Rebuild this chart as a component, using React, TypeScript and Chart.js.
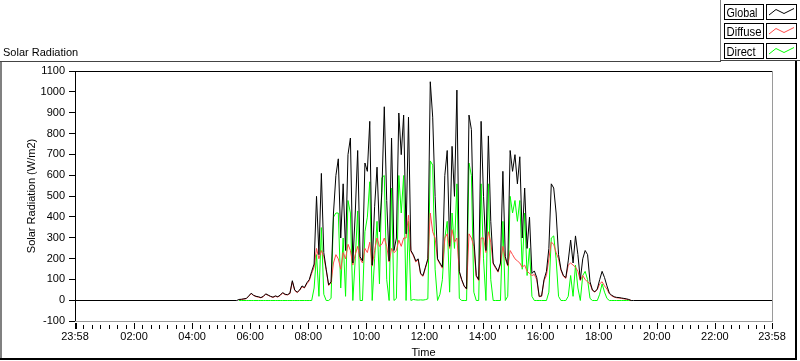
import { useEffect, useRef } from "react";
import { Chart, registerables } from "chart.js";
Chart.register(...registerables);

// ---- data (minutes since midnight, W/m2) ----
const startMinute = 337; // 05:37
const stepMinutes = 5;
const axisStart = -2; // 23:58 of previous day
const axisEnd = 1438; // 23:58

const majorTickMinutes = [-2, 120, 240, 360, 480, 600, 720, 840, 960, 1080, 1200, 1320, 1438];
const majorTickLabels = ["23:58", "02:00", "04:00", "06:00", "08:00", "10:00", "12:00", "14:00", "16:00", "18:00", "20:00", "22:00", "23:58"];
const minorPerMajor = 7;

const yMin = -100;
const yMax = 1100;
const yStep = 100;

const globalNightBefore = [
  { t: -2, v: 0 },
  { t: 332, v: 0 },
];
const globalNightAfter = [
  { t: 1152, v: 0 },
  { t: 1438, v: 0 },
];

const globalValues = [
  5, 6, 8, 10, 22, 35, 25, 20, 18, 14,
  20, 32, 26, 20, 16, 22, 18, 26, 38, 30,
  28, 35, 95, 50, 40, 50, 70, 62, 85, 100,
  140, 175, 500, 220, 610, 230, 150, 75, 90, 420,
  600, 680, 300, 560, 240, 700, 780, 180, 420, 720,
  210, 190, 660, 620, 860, 170, 450, 640, 330, 520,
  930, 480, 190, 780, 240, 300, 900, 700, 890, 320,
  880, 240, 220, 190, 200, 130, 120, 160, 200, 1050,
  880, 500, 200, 180, 160, 600, 720, 260, 740, 500,
  1010, 140, 100, 70, 56, 890, 820, 300, 120, 100,
  860, 500, 240, 790, 380, 180, 160, 140, 180, 620,
  210, 170, 720, 620, 700, 560, 690, 300, 540, 250,
  400, 130, 142, 110, 20, 22, 100, 140, 250, 560,
  540, 420, 220, 150, 120, 110, 190, 290, 180, 310,
  220, 100, 200, 240, 220, 90, 50, 42, 55, 100,
  140, 110, 70, 35, 25, 18, 15, 14, 12, 10,
  8, 5, 0,
];

const diffuseValues = [
  4, 5, 7, 9, 20, 33, 24, 19, 16, 13,
  18, 30, 25, 19, 15, 20, 17, 24, 36, 28,
  27, 33, 90, 48, 38, 48, 66, 60, 80, 95,
  130, 160, 250, 200, 240, 210, 145, 72, 85, 180,
  220, 200, 150, 230, 200, 270, 240, 170, 220, 260,
  200, 180, 250, 230, 280, 165, 240, 300, 260, 270,
  300, 260, 185, 250, 230, 240, 290, 260, 300, 300,
  410, 235, 215, 185, 195, 126, 116, 155, 195, 420,
  330, 300, 195, 175, 155, 300, 320, 250, 340, 280,
  300, 136, 97, 68, 54, 320, 300, 260, 116, 96,
  300, 300, 230, 330, 280, 175, 155, 136, 175, 260,
  200, 165, 240, 220, 200, 190, 180, 160, 170, 140,
  130, 120, 125, 100, 18, 20, 95, 120, 200, 280,
  270, 230, 200, 145, 116, 106, 170, 180, 170, 160,
  140, 96, 120, 100, 90, 80, 48, 40, 52, 80,
  90, 70, 55, 32, 22, 16, 13, 12, 10, 8,
  6, 4, 0,
];

const directValues = [
  0, 0, 0, 0, 0, 0, 0, 0, 0, 0,
  0, 0, 0, 0, 0, 0, 0, 0, 0, 0,
  0, 0, 0, 0, 0, 0, 0, 0, 0, 0,
  0, 60, 220, 20, 350, 30, 0, 0, 10, 400,
  420, 420, 60, 300, 20, 480, 420, 0, 200, 430,
  0, 0, 330, 400, 570, 0, 200, 380, 80, 590,
  600, 100, 0, 540, 0, 10, 600, 420, 600, 0,
  380, 0, 5, 3, 2, 3, 2, 4, 8, 670,
  650, 150, 0, 30, 100, 300, 380, 40, 420, 250,
  560, 10, 0, 0, 0, 660, 600, 40, 0, 0,
  560, 200, 0, 560, 100, 0, 0, 0, 0, 380,
  0, 20, 500, 420, 480, 380, 480, 150, 420, 120,
  250, 20, 0, 0, 0, 0, 0, 0, 40, 300,
  310, 200, 20, 0, 0, 0, 20, 120, 20, 170,
  60, 0, 120, 140, 100, 10, 0, 0, 0, 30,
  80, 40, 10, 0, 0, 0, 0, 0, 0, 0,
  0, 0, 0,
];

const seriesLabels = ["Global", "Diffuse", "Direct"];
const seriesColors = ["#000000", "#ff4848", "#00ff00"];

const chartTitle = "Solar Radiation";
const yTitle = "Solar Radiation (W/m2)";
const xTitle = "Time";

const FONT = '"Liberation Sans", Arial, sans-serif';

export default function App() {
  const ref = useRef<HTMLCanvasElement | null>(null);

  useEffect(() => {
    const canvas = ref.current;
    if (!canvas) return;

    const toPoints = (vals: number[]) =>
      vals.map((v, i) => ({ x: startMinute + i * stepMinutes, y: v }));
    const globalPts = [
      ...globalNightBefore.map((p) => ({ x: p.t, y: p.v })),
      ...toPoints(globalValues),
      ...globalNightAfter.map((p) => ({ x: p.t, y: p.v })),
    ];

    // snap the zero line onto a pixel row so the baseline is crisp
    const crisp = {
      id: "crisp",
      beforeDatasetsDraw(chart: any) {
        const y0 = chart.scales.y.getPixelForValue(0);
        const dy = Math.floor(y0) + 0.5 - y0;
        chart.ctx.save();
        chart.ctx.translate(0, dy);
      },
      afterDatasetsDraw(chart: any) {
        chart.ctx.restore();
      },
    };

    const decor = {
      id: "decor",
      afterDraw(chart: any) {
        const ctx: CanvasRenderingContext2D = chart.ctx;
        const ca = chart.chartArea;
        const xs = chart.scales.x;
        ctx.save();

        // plot-area frame (top black, right/bottom grey)
        ctx.fillStyle = "#000";
        ctx.fillRect(ca.left, ca.top, ca.right - ca.left + 1, 1);
        ctx.fillStyle = "#9a9a9a";
        ctx.fillRect(ca.right, ca.top, 1, ca.bottom - ca.top + 1);
        ctx.fillRect(ca.left, ca.bottom, ca.right - ca.left + 1, 1);

        // x ticks
        ctx.fillStyle = "#000";
        for (let k = 0; k < majorTickMinutes.length; k++) {
          const px = Math.round(xs.getPixelForValue(majorTickMinutes[k]));
          ctx.fillRect(px, ca.bottom + 2, k === 0 ? 2 : 1, 6);
          if (k < majorTickMinutes.length - 1) {
            const a = majorTickMinutes[k];
            const b = majorTickMinutes[k + 1];
            for (let j = 1; j < minorPerMajor; j++) {
              const mx = Math.round(xs.getPixelForValue(a + ((b - a) * j) / minorPerMajor));
              ctx.fillRect(mx, ca.bottom + 4, 1, 4);
            }
          }
        }
        ctx.font = `11px ${FONT}`;
        ctx.textAlign = "center";
        ctx.textBaseline = "alphabetic";
        for (let k = 0; k < majorTickMinutes.length; k++) {
          const px = xs.getPixelForValue(majorTickMinutes[k]);
          ctx.fillText(majorTickLabels[k], px, ca.bottom + 19);
        }

        // titles
        ctx.fillText(xTitle, (ca.left + ca.right) / 2, 356);
        ctx.textAlign = "left";
        ctx.fillText(chartTitle, 3, 56);
        ctx.save();
        ctx.translate(32, (ca.top + ca.bottom) / 2);
        ctx.rotate(-Math.PI / 2);
        ctx.textAlign = "center";
        ctx.textBaseline = "middle";
        ctx.fillText(yTitle, 0, 0);
        ctx.restore();

        // outer frame
        ctx.fillStyle = "#808080";
        ctx.fillRect(0, 61, 2, 298);
        ctx.fillStyle = "#444";
        ctx.fillRect(0, 61, 721, 1);
        ctx.fillStyle = "#000";
        ctx.fillRect(0, 358, 797, 2);
        ctx.fillRect(795, 60, 2, 300);
        // legend panel border
        ctx.fillStyle = "#808080";
        ctx.fillRect(720, 0, 1, 61);
        ctx.fillStyle = "#444";
        ctx.fillRect(720, 60, 80, 1);

        // legend
        const rowTops = [4, 23, 43];
        const textWidths = [31, 35, 29];
        ctx.lineWidth = 1;
        for (let r = 0; r < seriesLabels.length; r++) {
          const top = rowTops[r];
          ctx.strokeStyle = "#000";
          ctx.strokeRect(724.5, top + 0.5, 39, 15);
          ctx.strokeRect(766.5, top + 0.5, 30, 15);
          ctx.fillStyle = "#000";
          ctx.font = `13px ${FONT}`;
          ctx.textAlign = "left";
          ctx.textBaseline = "alphabetic";
          ctx.fillText(seriesLabels[r], 726.5, top + 12.5, textWidths[r]);
          ctx.strokeStyle = seriesColors[r];
          ctx.beginPath();
          ctx.moveTo(769, top + 11);
          ctx.lineTo(776, top + 5.5);
          ctx.lineTo(784, top + 9.5);
          ctx.lineTo(794, top + 4.5);
          ctx.stroke();
        }
        ctx.restore();
      },
    };

    const ds = (label: string, data: any[], color: string) => ({
      label,
      data,
      borderColor: color,
      backgroundColor: color,
      borderWidth: 1,
      pointRadius: 0,
      tension: 0,
      fill: false,
    });

    const chart = new Chart(canvas, {
      type: "line",
      data: {
        datasets: [
          ds(seriesLabels[0], globalPts, seriesColors[0]),
          ds(seriesLabels[1], toPoints(diffuseValues), seriesColors[1]),
          ds(seriesLabels[2], toPoints(directValues), seriesColors[2]),
        ],
      },
      options: {
        animation: false,
        responsive: false,
        devicePixelRatio: 1,
        layout: { padding: { top: 71, right: 28, bottom: 40, left: 0 } },
        plugins: {
          legend: { display: false },
          tooltip: { enabled: false },
          title: { display: false },
        },
        scales: {
          x: { type: "linear", min: axisStart, max: axisEnd, display: false },
          y: {
            min: yMin,
            max: yMax,
            afterFit: (s: any) => {
              s.width = 75;
            },
            ticks: {
              stepSize: yStep,
              color: "#000",
              font: { family: FONT, size: 11 },
              padding: 4,
              callback: (v: any) => String(v),
            },
            grid: { drawOnChartArea: false, drawTicks: true, tickLength: 6, color: "#000" },
            border: { color: "#000" },
          },
        },
      },
      plugins: [crisp, decor],
    } as any);

    return () => chart.destroy();
  }, []);

  return (
    <div style={{ position: "absolute", left: 0, top: 0, width: 800, height: 361, background: "#fff" }}>
      <canvas ref={ref} width={800} height={361} style={{ display: "block" }} />
    </div>
  );
}
